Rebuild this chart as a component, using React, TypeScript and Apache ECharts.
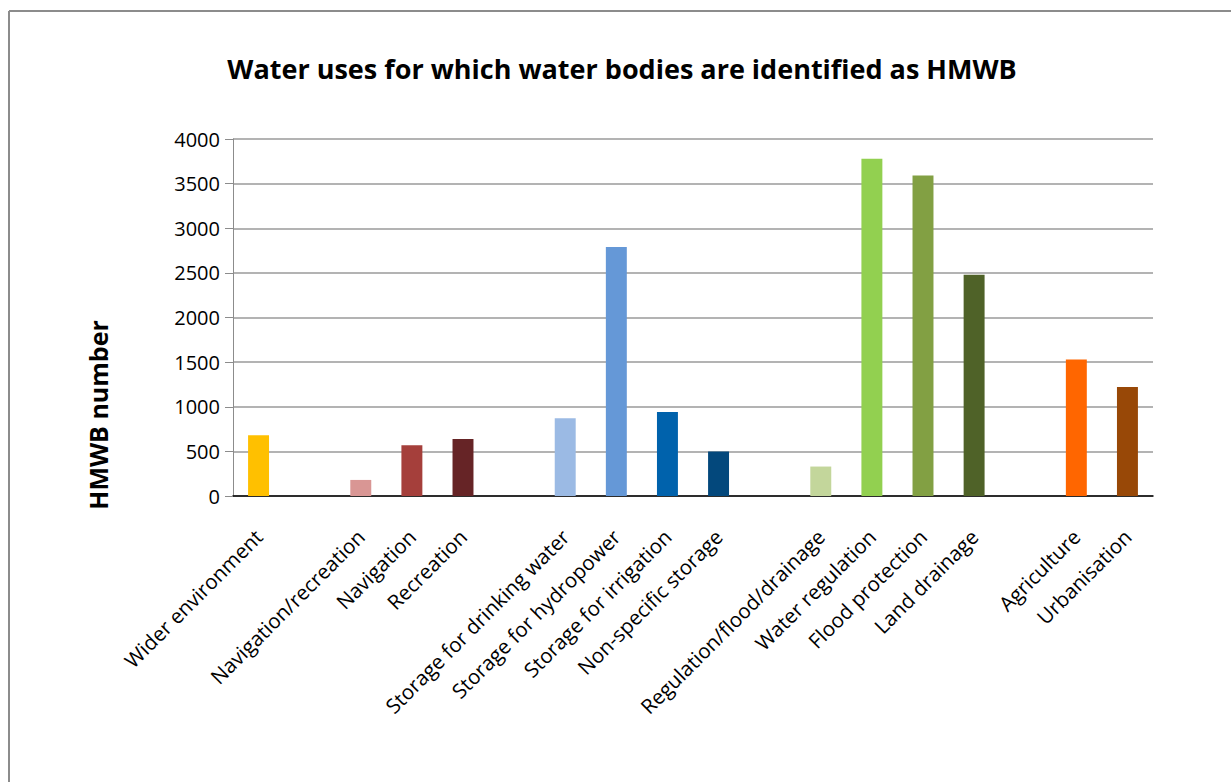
import React, { useEffect, useRef } from "react";
import * as echarts from "echarts";

const titleText = "Water uses for which water bodies are identified as HMWB";
const yAxisName = "HMWB number";

const categories = [
  "Wider environment",
  "",
  "Navigation/recreation",
  "Navigation",
  "Recreation",
  "",
  "Storage for drinking water",
  "Storage for hydropower",
  "Storage for irrigation",
  "Non-specific storage",
  "",
  "Regulation/flood/drainage",
  "Water regulation",
  "Flood protection",
  "Land drainage",
  "",
  "Agriculture",
  "Urbanisation",
];

const values: (number | null)[] = [
  680, null, 180, 570, 640, null, 870, 2790, 940, 500, null, 330, 3780, 3590, 2480, null, 1530, 1220,
];

const barColors = [
  "#FFC000", "#FFFFFF", "#D99694", "#A53F3B", "#662426", "#FFFFFF",
  "#9BBAE4", "#6598D7", "#0062AC", "#03487C", "#FFFFFF",
  "#C3D69B", "#92D050", "#82A043", "#4F6228", "#FFFFFF",
  "#FF6600", "#984807",
];

const yTicks = { min: 0, max: 4000, interval: 500 };

export default function App() {
  const ref = useRef<HTMLDivElement>(null);
  useEffect(() => {
    if (!ref.current) return;
    const chart = echarts.init(ref.current, null, { renderer: "svg" });
    const font = "'Open Sans', 'Noto Sans', sans-serif";
    chart.setOption({
      animation: false,
      backgroundColor: "#ffffff",
      graphic: [
        {
          type: "line",
          shape: { x1: 9, y1: 11, x2: 1231, y2: 11 },
          style: { stroke: "#8c8c8c", lineWidth: 2 },
          silent: true,
        },
        {
          type: "line",
          shape: { x1: 9, y1: 11, x2: 9, y2: 782 },
          style: { stroke: "#8c8c8c", lineWidth: 2 },
          silent: true,
        },
        {
          type: "text",
          x: 622,
          y: 68,
          style: {
            text: titleText,
            font: `bold 27px ${font}`,
            fill: "#000",
            align: "center",
            verticalAlign: "middle",
          },
        },
        {
          type: "text",
          x: 98,
          y: 415,
          rotation: Math.PI / 2,
          style: {
            text: yAxisName,
            font: `bold 25px ${font}`,
            fill: "#000",
            align: "center",
            verticalAlign: "middle",
          },
        },
      ],
      grid: { left: 233, right: 78, top: 139, bottom: 286, containLabel: false },
      xAxis: {
        type: "category",
        data: categories,
        axisLine: { show: true, lineStyle: { color: "#000", width: 1.5 } },
        axisTick: { show: false },
        axisLabel: {
          interval: 0,
          rotate: 45,
          margin: 37,
          fontFamily: font,
          fontSize: 20.5,
          color: "#000",
        },
        splitLine: { show: false },
      },
      yAxis: {
        type: "value",
        min: yTicks.min,
        max: yTicks.max,
        interval: yTicks.interval,
        axisLine: { show: true, lineStyle: { color: "#8c8c8c", width: 1 } },
        axisTick: { show: true, length: 8, lineStyle: { color: "#8c8c8c" } },
        axisLabel: {
          margin: 13,
          fontFamily: font,
          fontSize: 20,
          color: "#000",
          formatter: (v: number) => String(v),
        },
        splitLine: { show: true, lineStyle: { color: "#9a9a9a", width: 1.5 } },
      },
      series: [
        {
          type: "bar",
          barWidth: "41%",
          data: values.map((v, i) => ({
            value: v === null ? "-" : v,
            itemStyle: { color: barColors[i] },
          })),
        },
      ],
    });
    return () => chart.dispose();
  }, []);
  return (
    <div
      ref={ref}
      style={{ position: "fixed", left: 0, top: 0, width: 1231, height: 782, background: "#fff" }}
    />
  );
}
